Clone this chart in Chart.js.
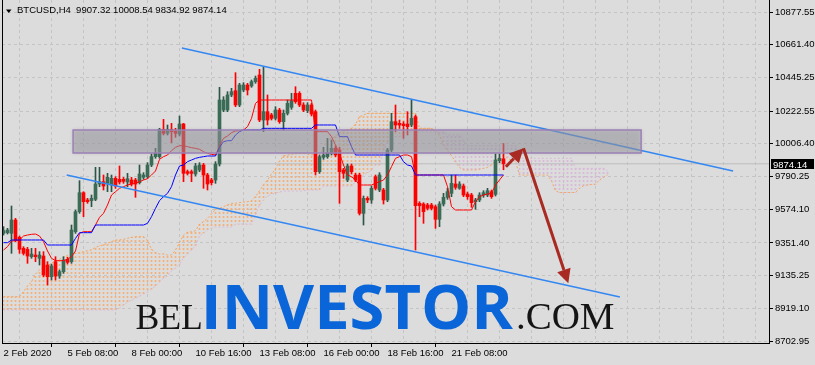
<!DOCTYPE html>
<html><head><meta charset="utf-8">
<script src="https://cdn.jsdelivr.net/npm/chart.js@4.4.1/dist/chart.umd.min.js"></script>
<style>html,body{margin:0;padding:0;background:#dcdcdc;overflow:hidden}canvas{display:block}</style>
</head><body>
<canvas id="c" width="815" height="365"></canvas>
<script>
// ---- data ----
const titleText = 'BTCUSD,H4  9907.32 10008.54 9834.92 9874.14';
const bidPrice = 9874.14;

const openP = [
9414.6,9419,9414.6,9502.8,9388.2,9315.5,9308.9,9260.4,9271.4,9249.4,
9264.8,9205.3,9128.2,9227.4,9132.6,9161.3,9242.8,9227.4,9425.7,9557.8,
9683.4,9635,9630.5,9639.4,9740.7,9756.1,9745.1,9734.1,9778.2,9771.6,
9771.6,9753.9,9767.1,9767.1,9749.5,9784.8,9789.2,9866.3,9921.4,9921.4,
10102,10075.6,10102,10088.8,10071.2,10137.3,9822.2,9822.2,9806.8,9833.2,
9866.3,9800.2,9767.1,9767.1,9872.9,10229.8,10229.8,10329,10357.6,10262.9,
10362,10395.1,10388.5,10417.1,10461.2,10163.7,10218.8,10196.8,10174.7,10229.8,
10152.7,10207.8,10247.4,10340,10340,10262.9,10225.4,10262.9,10218.8,9822.2,
9917,9921.4,9943.4,9976.5,9965.4,9833.2,9767.1,9859.7,9800.2,9800.2,
9546.8,9646,9635,9789.2,9701.1,9701.1,9635,9965.4,10152.7,10141.7,
10137.3,10137.3,10130.7,10185.8,9612.9,9608.5,9601.9,9601.9,9590.9,9507.2,
9608.5,9652.6,9679,9740.7,9712.1,9727.5,9674.6,9668,9623.9,9635,
9668,9668,9690,9672.4,9894.9,9907.32];
const highP = [
9458.7,9447.7,9595.3,9513.8,9397,9326.5,9322.1,9315.5,9315.5,9293.5,
9293.5,9227.4,9211.9,9260.4,9172.3,9260.4,9256,9469.7,9568.9,9762.7,
9690,9646,9668,9850.9,9850.9,9800.2,9811.2,9800.2,9789.2,9859.7,
9784.8,9811.2,9784.8,9778.2,9866.3,9815.6,9881.7,9939,9976.5,10108.6,
10168.1,10130.7,10141.7,10108.6,10190.2,10141.7,9833.2,9833.2,9877.3,9881.7,
9877.3,9811.2,9778.2,9888.3,10379.6,10317.9,10351,10373,10476.6,10406.1,
10410.5,10406.1,10428.1,10454.5,10498.6,10516.2,10329,10207.8,10251.9,10240.8,
10229.8,10295.9,10340,10384,10351,10278.3,10278.3,10273.9,10229.8,9932.4,
9983.1,10042.5,10031.5,9991.9,9983.1,9844.2,9872.9,9872.9,9811.2,9811.2,
9661.4,9657,9727.5,9800.2,9815.6,9712.1,9976.5,10207.8,10262.9,10163.7,
10152.7,10218.8,10295.9,10196.8,9623.9,9617.3,9612.9,9612.9,9601.9,9623.9,
9679,9712.1,9800.2,9800.2,9756.1,9740.7,9687.8,9679,9646,9683.4,
9696.6,9712.1,9701.1,9939,9939,10008.54];
const lowP = [
9403.6,9410.2,9282.4,9359.6,9282.4,9271.4,9216.3,9249.4,9227.4,9205.3,
9128.2,9073.1,9106.2,9106.2,9117.2,9150.3,9211.9,9216.3,9414.6,9546.8,
9524.8,9612.9,9590.9,9630.5,9723.1,9701.1,9690,9690,9712.1,9740.7,
9745.1,9723.1,9727.5,9652.6,9740.7,9771.6,9778.2,9855.3,9910.4,9910.4,
10064.6,10064.6,10013.9,10049.2,10058,9756.1,9800.2,9756.1,9793.6,9822.2,
9712.1,9701.1,9734.1,9745.1,9859.7,10218.8,10218.8,10317.9,10251.9,10251.9,
10351,10329,10379.6,10406.1,10152.7,10086.6,10130.7,10163.7,10163.7,10141.7,
10097.6,10196.8,10234.2,10273.9,10251.9,10218.8,10212.2,10190.2,9800.2,9811.2,
9903.7,9910.4,9932.4,9921.4,9612.9,9778.2,9756.1,9806.8,9756.1,9535.8,
9469.7,9617.3,9612.9,9701.1,9690,9608.5,9623.9,9954.4,10086.6,10108.6,
10042.5,10064.6,10119.7,9304.5,9524.8,9480.7,9568.9,9568.9,9447.7,9458.7,
9595.3,9639.4,9657,9705.5,9705.5,9657,9639.4,9586.5,9573.3,9623.9,
9652.6,9657,9646,9661.4,9881.7,9834.92];
const closeP = [
9432.3,9436.7,9502.8,9370.6,9308.9,9282.4,9264.8,9278,9260.4,9271.4,
9139.2,9128.2,9198.7,9132.6,9161.3,9238.4,9223,9436.7,9557.8,9683.4,
9623.9,9623.9,9646,9740.7,9756.1,9727.5,9784.8,9778.2,9727.5,9753.9,
9758.3,9776,9740.7,9740.7,9806.8,9800.2,9866.3,9921.4,9943.4,10102,
10075.6,10102,10086.6,10075.6,10137.3,9811.2,9811.2,9811.2,9859.7,9866.3,
9800.2,9740.7,9749.5,9872.9,10295.9,10295.9,10329,10351,10262.9,10395.1,
10395.1,10362,10417.1,10439.1,10163.7,10218.8,10163.7,10174.7,10229.8,10152.7,
10207.8,10273.9,10291.5,10284.9,10262.9,10229.8,10262.9,10203.4,9822.2,9921.4,
9932.4,9947.8,9976.5,9932.4,9822.2,9811.2,9859.7,9822.2,9767.1,9546.8,
9646,9635,9712.1,9712.1,9800.2,9635,9965.4,10152.7,10130.7,10130.7,
10126.3,10119.7,10174.7,9597.5,9597.5,9557.8,9579.9,9579.9,9507.2,9608.5,
9652.6,9690,9745.1,9718.7,9740.7,9668,9657,9617.3,9635,9668,
9683.4,9696.6,9657,9899.3,9910.4,9874.14];

const tenkan = [
9304.5,9326.5,9364,9366.2,9370.6,9397,9403.6,9408,9410.2,9397,
9359.6,9297.9,9249.4,9234,9234,9234,9242.8,9260.4,9297.9,9414.6,
9425.7,9425.7,9425.7,9469.7,9520.4,9546.8,9601.9,9668,9690,9712.1,
9723.1,9734.1,9740.7,9745.1,9756.1,9767.1,9776,9800.2,9826.6,9903.7,
9921.4,9932.4,9961,9983.1,9994.1,9994.1,9987.5,9980.9,9976.5,9969.8,
9954.4,9943.4,9936.8,9932.4,9991.9,10042.5,10058,10080,10091,10093.2,
10097.6,10119.7,10174.7,10273.9,10295.9,10295.9,10295.9,10295.9,10295.9,10295.9,
10295.9,10295.9,10295.9,10295.9,10295.9,10295.9,10295.9,10295.9,10086.6,10086.6,
10086.6,10086.6,10053.6,9998.5,9943.4,9866.3,9800.2,9789.2,9767.1,9734.1,
9734.1,9734.1,9734.1,9745.1,9756.1,9767.1,9800.2,9855.3,9910.4,9921.4,
9932.4,9932.4,9921.4,9800.2,9800.2,9800.2,9800.2,9800.2,9800.2,9800.2,
9800.2,9723.1,9590.9,9568.9,9568.9,9568.9,9568.9,9568.9,9623.9,9657,
9668,9674.6,9679,9734.1,9767.1,9800.2];
const kijun = [
9352.9,9352.9,9370.6,9370.6,9370.6,9370.6,9370.6,9370.6,9370.6,9370.6,
9370.6,9337.5,9337.5,9337.5,9337.5,9337.5,9337.5,9337.5,9381.6,9419,
9419,9419,9419,9469.7,9469.7,9469.7,9469.7,9469.7,9469.7,9469.7,
9469.7,9469.7,9469.7,9469.7,9469.7,9469.7,9480.7,9524.8,9579.9,9630.5,
9657,9679,9723.1,9800.2,9859.7,9866.3,9888.3,9899.3,9910.4,9917,
9921.4,9925.8,9925.8,9925.8,9983.1,10020.5,10027.1,10027.1,10064.6,10086.6,
10097.6,10097.6,10097.6,10097.6,10097.6,10108.6,10108.6,10108.6,10108.6,10108.6,
10108.6,10108.6,10108.6,10108.6,10108.6,10108.6,10108.6,10108.6,10130.7,10130.7,
10130.7,10130.7,10130.7,10130.7,10053.6,10053.6,10053.6,9987.5,9932.4,9932.4,
9932.4,9932.4,9932.4,9932.4,9932.4,9932.4,9932.4,9932.4,9932.4,9932.4,
9888.3,9866.3,9859.7,9800.2,9800.2,9800.2,9800.2,9800.2,9800.2,9800.2,
9800.2,9800.2,9800.2,9800.2,9800.2,9800.2,9800.2,9800.2,9800.2,9800.2,
9800.2,9800.2,9800.2,9800.2,9800.2,9800.2];
const senkouA = [
8995.8,8995.8,8995.8,8995.8,8995.8,9028.8,9066.5,9095,9145.8,9172.3,
9190.1,9200.7,9216.6,9233.8,9243,9256.2,9269.4,9278,9282.7,9286.6,
9293.2,9299.9,9304.5,9322.3,9330.9,9339.5,9348.8,9359.3,9370.6,9370.6,
9375.2,9381.8,9388.4,9392.4,9392.4,9392.4,9370.6,9309.1,9286.6,9278,
9278,9271.4,9271.4,9304.5,9352.7,9403.6,9421.5,9425.4,9432,9474.3,
9491.5,9514,9542.4,9573.5,9580.1,9590.7,9601.9,9613.1,9613.1,9617.1,
9621.7,9623.7,9630.3,9656.8,9696.4,9734.1,9767.2,9805.5,9841.8,9891.4,
9927.1,9930.4,9937.7,9940.3,9943.6,9943.6,9937.7,9934.4,9931.1,9929.1,
9987.3,10031.5,10042.8,10053.4,10077.8,10089.7,10097.6,10108.9,10136,10185.5,
10196.8,10208,10208,10208,10208,10208,10208,10208,10208,10208,
10208,10208,10208,10208,10108.9,10108.9,10108.9,10108.9,10092.3,10064.6,
9998.5,9960.2,9927.1,9888.1,9849.8,9833.3,9833.3,9833.3,9833.3,9838.5,
9844.5,9849.8,9866.3,9894.1,9921.2,9927.1,9910.6,9899.3,9890.7,9800.2,
9800.2,9800.2,9800.2,9800.2,9800.2,9800.2,9800.2,9761.9,9695.8,9684.5,
9684.5,9684.5,9684.5,9684.5,9712.3,9728.8,9734.1,9737.4,9739.4,9767.2,
9783.7,9800.2];
const senkouB = [
8907.9,8907.9,8907.9,8907.9,8907.9,8907.9,8907.9,8907.9,8907.9,8907.9,
8907.9,8907.9,8907.9,8907.9,8907.9,8907.9,8907.9,8907.9,8907.9,8907.9,
8907.9,8907.9,8907.9,8907.9,8907.9,8907.9,8907.9,8907.9,8907.9,8921.1,
8940.9,8960.8,8974,8987.2,9000.4,9013.6,9026.9,9046.7,9066.5,9093,
9117.4,9132.6,9165.7,9185.5,9211.9,9251.6,9278,9304.5,9330.9,9397,
9416.9,9436.7,9449.9,9456.5,9456.5,9456.5,9456.5,9456.5,9476.3,9476.3,
9476.3,9476.3,9476.3,9535.8,9601.9,9635,9661.4,9674.6,9681.2,9687.8,
9694.5,9694.5,9694.5,9694.5,9694.5,9694.5,9701.1,9701.1,9701.1,9701.1,
9727.5,9727.5,9727.5,9727.5,9727.5,9727.5,9727.5,9727.5,9753.9,9773.8,
9800.2,9816.7,9833.3,9866.3,9866.3,9965.4,10020.3,10020.3,10053.4,10053.4,
10073.2,10084.4,10084.4,10084.4,10084.4,10084.4,10084.4,10084.4,10084.4,10084.4,
10084.4,10064.6,10064.6,10064.6,10064.6,10024.9,9993.2,9993.2,9993.2,9993.2,
9993.2,9993.2,9993.2,9993.2,9993.2,9993.2,9993.2,9993.2,9993.2,9910.6,
9910.6,9910.6,9910.6,9910.6,9910.6,9910.6,9910.6,9910.6,9910.6,9910.6,
9910.6,9910.6,9910.6,9844.5,9844.5,9844.5,9844.5,9844.5,9844.5,9844.5,
9844.5,9828];

const yTickValues = [10877.55,10661.40,10445.25,10222.55,10006.40,9790.25,9574.10,9351.40,9135.25,8919.10,8702.95];
const xGridBars = [0,8,16,24,32,40,48,56,64,72,80,88,96,104,112,120,128,136,144,152,160,168,176,184];
const xTickBars = [0,16,32,48,64,80,96,112];
const xTickLabels = ['2 Feb 2020','5 Feb 08:00','8 Feb 00:00','10 Feb 16:00','13 Feb 08:00','16 Feb 00:00','18 Feb 16:00','21 Feb 08:00'];

const upperTrendBars = [44.6,182.4];
const upperTrendPrices = [10639.6,9826.6];
const lowerTrendBars = [15.8,154.1];
const lowerTrendPrices = [9800.2,8993.8];
const zoneBars = [17.4,159.4];
const zonePrices = [10097.6,9945.6];
const arrowFromBars = [125.6,130];
const arrowFromPrices = [9855,9976.6];
const arrowToBars = [130,141.2];
const arrowToPrices = [9976.6,9084.4];
const watermarkParts = ['BEL','INVESTOR','.COM'];

// ---- view ----
const X_MIN = -0.375, X_MAX = 191.375;
const Y_MIN = 8689.8, Y_MAX = 10956.9;

const canvas = document.getElementById('c');
const ctx = canvas.getContext('2d');

function hatch(color){
  const t = document.createElement('canvas'); t.width = 1; t.height = 4;
  const g = t.getContext('2d'); g.fillStyle = color; g.fillRect(0,0,1,2);
  return ctx.createPattern(t,'repeat');
}
const ORANGE = '#f4a460', THISTLE = '#d9b9d9';
const patOrange = hatch('#f2b07a');
const patThistle = hatch(THISTLE);

const bull = openP.map((o,i)=>closeP[i] >= o);
const BULL_BODY = '#3a6b57', BULL_WICK = '#2d5546', BEAR = '#ff0000';

const pts = arr => arr.map((v,i)=>({x:i,y:v}));

const datasets = [
  {type:'line', label:'up', data:upperTrendBars.map((b,i)=>({x:b,y:upperTrendPrices[i]})), borderColor:'#3487f2', borderWidth:1.4, pointRadius:0, order:1},
  {type:'line', label:'lo', data:lowerTrendBars.map((b,i)=>({x:b,y:lowerTrendPrices[i]})), borderColor:'#3487f2', borderWidth:1.4, pointRadius:0, order:1},
  {type:'line', label:'kijun', data:pts(kijun), borderColor:'#0000ff', borderWidth:1, pointRadius:0, order:3},
  {type:'line', label:'tenkan', data:pts(tenkan), borderColor:'#ff0000', borderWidth:1, pointRadius:0, order:4},
  {type:'bar', label:'body', data:openP.map((o,i)=>({x:i,y:[o,closeP[i]]})), backgroundColor:bull.map(b=>b?BULL_BODY:BEAR), borderWidth:0, barThickness:3, minBarLength:1, grouped:false, order:5},
  {type:'bar', label:'wick', data:lowP.map((l,i)=>({x:i,y:[l,highP[i]]})), backgroundColor:bull.map(b=>b?BULL_WICK:BEAR), borderWidth:0, barThickness:1, grouped:false, order:6},
  {type:'line', label:'bid', data:[{x:X_MIN,y:bidPrice},{x:X_MAX,y:bidPrice}], borderColor:'#bdbdbd', borderWidth:1, pointRadius:0, order:9},
  {type:'line', label:'spanA', data:pts(senkouA), borderColor:ORANGE, borderWidth:1, borderDash:[2,2], pointRadius:0, order:10, fill:false},
  {type:'line', label:'spanB', data:pts(senkouB), borderColor:THISTLE, borderWidth:1, borderDash:[2,2], pointRadius:0, order:11, fill:false},
  {type:'bar', label:'kumo', data:senkouA.map((a,i)=>({x:i,y:[senkouB[i],a]})),
    backgroundColor:senkouA.map((a,i)=> a >= senkouB[i] ? patOrange : patThistle),
    borderWidth:0, barThickness:1, grouped:false, order:12}
];

function drawArrow(c, x0,y0,x1,y1){
  const a = Math.atan2(y1-y0, x1-x0), L = 14, W = 7;
  const bx = x1 - L*Math.cos(a), by = y1 - L*Math.sin(a);
  c.beginPath(); c.moveTo(x0,y0); c.lineTo(bx,by); c.stroke();
  c.beginPath(); c.moveTo(x1,y1);
  c.lineTo(bx + W*Math.sin(a), by - W*Math.cos(a));
  c.lineTo(bx - W*Math.sin(a), by + W*Math.cos(a));
  c.closePath(); c.fill();
}

function fitText(c, text, font, color, left, right, baseline){
  c.font = font; c.fillStyle = color;
  const m = c.measureText(text);
  const w = m.actualBoundingBoxLeft + m.actualBoundingBoxRight;
  const s = (right-left)/w;
  c.save(); c.translate(left + m.actualBoundingBoxLeft*s, baseline); c.scale(s,1);
  c.fillText(text, 0, 0); c.restore();
}

const extras = {
  id:'extras',
  afterDatasetsDraw(chart){
    const c = chart.ctx, x = chart.scales.x, y = chart.scales.y;
    const x1 = x.getPixelForValue(zoneBars[0]), x2 = x.getPixelForValue(zoneBars[1]);
    const y1 = y.getPixelForValue(zonePrices[0]), y2 = y.getPixelForValue(zonePrices[1]);
    c.save();
    c.shadowColor = 'rgba(0,0,0,0.3)'; c.shadowBlur = 4;
    c.fillStyle = 'rgba(165,165,176,0.5)';
    c.fillRect(x1,y1,x2-x1,y2-y1);
    c.shadowBlur = 0; c.shadowColor = 'rgba(0,0,0,0)';
    c.strokeStyle = '#9a7fb4'; c.lineWidth = 1.5;
    c.strokeRect(x1,y1,x2-x1,y2-y1);
    c.restore();
    c.save();
    c.strokeStyle = '#a92a22'; c.fillStyle = '#a92a22'; c.lineWidth = 3; c.lineCap = 'butt';
    for (let i=0;i<arrowFromBars.length;i++){
      drawArrow(c, x.getPixelForValue(arrowFromBars[i]), y.getPixelForValue(arrowFromPrices[i]),
                   x.getPixelForValue(arrowToBars[i]), y.getPixelForValue(arrowToPrices[i]));
    }
    c.restore();
  },
  afterDraw(chart){
    const c = chart.ctx, a = chart.chartArea, y = chart.scales.y;
    c.save();
    c.strokeStyle = '#000'; c.lineWidth = 1;
    c.beginPath(); c.moveTo(a.left+0.5, a.top); c.lineTo(a.left+0.5, a.bottom); c.stroke();
    c.fillStyle = '#000';
    c.beginPath(); c.moveTo(6,9.5); c.lineTo(11.5,9.5); c.lineTo(8.75,13); c.closePath(); c.fill();
    c.font = "9.5px 'Liberation Sans', Arial, sans-serif";
    c.textBaseline = 'alphabetic'; c.textAlign = 'left';
    c.fillText(titleText, 17, 13);
    const py = y.getPixelForValue(bidPrice);
    c.fillStyle = '#000';
    c.fillRect(a.right+2, Math.round(py)-5, 43, 10);
    c.fillStyle = '#fff';
    c.fillText(bidPrice.toFixed(2), a.right+4, Math.round(py)+3.5);
    fitText(c, watermarkParts[0], "35px 'Liberation Serif', serif", '#151515', 136.5, 201.5, 328.5);
    fitText(c, watermarkParts[1], "bold 60px 'Open Sans', 'Liberation Sans', sans-serif", '#0a66d8', 206, 513.5, 328.5);
    fitText(c, watermarkParts[2], "37px 'Liberation Serif', serif", '#151515', 518, 613.5, 328.5);
    c.restore();
  }
};

Chart.defaults.font.family = "'Liberation Sans', Arial, sans-serif";
Chart.defaults.font.size = 9.5;
Chart.defaults.color = '#000';

new Chart(ctx, {
  type:'bar',
  data:{datasets},
  options:{
    responsive:false, animation:false, events:[],
    layout:{padding:{left:2,top:0,right:0,bottom:0}, autoPadding:false},
    plugins:{legend:{display:false}, tooltip:{enabled:false}, title:{display:false}},
    scales:{
      x:{type:'linear', min:X_MIN, max:X_MAX, offset:false,
        afterBuildTicks:s=>{ s.ticks = xGridBars.map(v=>({value:v})); },
        afterFit:s=>{ s.height = 22; s.paddingLeft = 0; s.paddingRight = 0; },
        ticks:{autoSkip:false, maxRotation:0, minRotation:0, align:'start', padding:1,
          callback:v=>{ const k = xTickBars.indexOf(v); return k >= 0 ? xTickLabels[k] : ''; }},
        grid:{color:'#c4c4c4', lineWidth:1, tickLength:4,
          tickColor:c=> (c.tick && xTickBars.indexOf(c.tick.value) >= 0) ? '#000' : 'rgba(0,0,0,0)'},
        border:{display:true, color:'#000', width:1, dash:[3,3]}
      },
      y:{type:'linear', position:'right', min:Y_MIN, max:Y_MAX,
        afterBuildTicks:s=>{ s.ticks = yTickValues.map(v=>({value:v})); },
        afterFit:s=>{ s.width = 46; s.paddingTop = 0; s.paddingBottom = 0; },
        ticks:{autoSkip:false, padding:2, callback:v=>Number(v).toFixed(2)},
        grid:{color:'#c4c4c4', lineWidth:1, tickLength:4, tickColor:'#000'},
        border:{display:true, color:'#000', width:1, dash:[3,3]}
      }
    }
  },
  plugins:[extras]
});
</script>
</body></html>
